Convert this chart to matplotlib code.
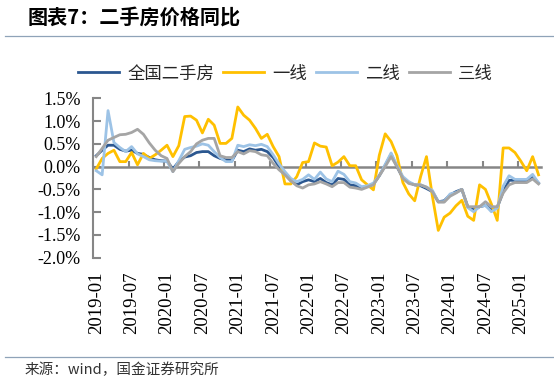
import numpy as np
import matplotlib
matplotlib.use("Agg")
import matplotlib.pyplot as plt
from matplotlib.lines import Line2D

# Monthly data, 2019-01 .. 2025-04 (YoY, %)
months = [f"{y}-{m:02d}" for y in range(2019, 2026) for m in range(1, 13)][:76]

national = [0.24, 0.36, 0.47, 0.47, 0.38, 0.34, 0.36, 0.29, 0.27, 0.20, 0.15, 0.13,
            0.12, -0.05, 0.11, 0.21, 0.24, 0.31, 0.33, 0.33, 0.24, 0.18, 0.15, 0.13,
            0.36, 0.33, 0.39, 0.36, 0.38, 0.33, 0.20, 0.00, -0.17, -0.31, -0.40, -0.33,
            -0.29, -0.33, -0.26, -0.35, -0.40, -0.26, -0.28, -0.40, -0.42, -0.47, -0.43, -0.38,
            -0.20, 0.03, 0.27, 0.00, -0.25, -0.35, -0.40, -0.42, -0.48, -0.55, -0.77, -0.75,
            -0.62, -0.55, -0.50, -0.88, -0.95, -0.88, -0.85, -0.95, -0.90, -0.55, -0.30, -0.30,
            -0.32, -0.30, -0.22, -0.36]
tier1 = [-0.05, 0.18, 0.29, 0.36, 0.11, 0.11, 0.31, 0.04, 0.29, 0.18, 0.26, 0.36,
         0.47, 0.22, 0.46, 1.10, 1.11, 1.02, 0.74, 1.04, 0.91, 0.51, 0.51, 0.62,
         1.31, 1.13, 1.02, 0.84, 0.62, 0.71, 0.44, 0.22, -0.38, -0.38, -0.22, 0.09,
         0.11, 0.52, 0.45, 0.43, 0.02, 0.10, 0.22, 0.02, 0.02, -0.29, -0.40, -0.51,
         0.25, 0.72, 0.55, 0.24, -0.35, -0.60, -0.75, -0.22, 0.22, -0.65, -1.40, -1.11,
         -1.02, -0.86, -0.74, -1.09, -1.18, -0.40, -0.50, -0.82, -1.18, 0.41, 0.41, 0.31,
         0.12, -0.09, 0.22, -0.18]
tier2 = [-0.09, -0.18, 1.23, 0.53, 0.42, 0.33, 0.44, 0.28, 0.22, 0.15, 0.13, 0.12,
         0.12, -0.11, 0.13, 0.38, 0.42, 0.45, 0.50, 0.47, 0.33, 0.20, 0.11, 0.11,
         0.47, 0.44, 0.48, 0.46, 0.49, 0.44, 0.26, 0.06, -0.11, -0.26, -0.33, -0.28,
         -0.18, -0.28, -0.12, -0.27, -0.33, -0.10, -0.17, -0.33, -0.36, -0.44, -0.42, -0.36,
         -0.20, 0.05, 0.30, 0.02, -0.22, -0.33, -0.40, -0.40, -0.45, -0.52, -0.77, -0.77,
         -0.60, -0.57, -0.50, -0.90, -0.99, -0.88, -0.85, -0.99, -0.91, -0.43, -0.20, -0.28,
         -0.28, -0.28, -0.17, -0.36]
tier3 = [0.22, 0.40, 0.58, 0.64, 0.70, 0.71, 0.75, 0.82, 0.71, 0.52, 0.36, 0.24,
         0.18, -0.11, 0.07, 0.22, 0.33, 0.50, 0.58, 0.62, 0.62, 0.24, 0.20, 0.20,
         0.33, 0.28, 0.35, 0.33, 0.26, 0.24, 0.07, -0.07, -0.18, -0.31, -0.42, -0.47,
         -0.40, -0.38, -0.33, -0.38, -0.44, -0.35, -0.35, -0.45, -0.47, -0.50, -0.45, -0.40,
         -0.20, 0.00, 0.22, 0.00, -0.26, -0.37, -0.40, -0.40, -0.45, -0.55, -0.78, -0.78,
         -0.65, -0.58, -0.50, -0.88, -0.88, -0.88, -0.77, -0.88, -0.88, -0.58, -0.40, -0.35,
         -0.35, -0.35, -0.27, -0.38]

series_names = ["全国二手房", "一线", "二线", "三线"]
series_colors = ["#2B5790", "#FFC000", "#9DC3E6", "#A5A5A5"]

cjk = ["Noto Sans CJK SC", "DejaVu Sans"]
serif = "Liberation Serif"
axis_gray = "#868686"

fig = plt.figure(figsize=(5.54, 3.83), dpi=100)
ax = fig.add_axes([0.1684, 0.3271, 0.809, 0.4162])

x = np.arange(len(months))
handles = []
for vals, name, col in zip([national, tier1, tier2, tier3], series_names, series_colors):
    h, = ax.plot(x, vals, color=col, lw=2.0, label=name, zorder=3,
                 solid_joinstyle="round")
    handles.append(h)

ax.set_xlim(-0.5, len(months) - 0.5)
ax.set_ylim(-2.0, 1.5)

# spines: y axis on the left, category axis crossing at 0
for s in ["top", "right"]:
    ax.spines[s].set_visible(False)
ax.spines["left"].set_color(axis_gray)
ax.spines["left"].set_linewidth(1.5)
ax.spines["bottom"].set_position(("data", 0))
ax.spines["bottom"].set_color(axis_gray)
ax.spines["bottom"].set_linewidth(1.8)

yticks = np.arange(-2.0, 1.51, 0.5)
ax.set_yticks(yticks, labels=[f"{v:.1f}%" for v in yticks])
ax.tick_params(axis="y", direction="in", length=6, width=1.5, color=axis_gray,
               labelsize=13, pad=9, labelcolor="#000000")
for lab in ax.get_yticklabels():
    lab.set_fontfamily(serif)

# tick marks at category boundaries every 6 months, no labels
ax.set_xticks(np.arange(-0.5, len(months), 6))
ax.tick_params(axis="x", direction="in", length=4, width=1.5, color=axis_gray,
               labelbottom=False)

# labels at the bottom of the plot area
sec = ax.secondary_xaxis(0)
label_idx = list(range(0, len(months), 6))
sec.set_xticks(label_idx, labels=[months[i] for i in label_idx])
sec.tick_params(axis="x", length=0, pad=10, labelsize=13.5, rotation=90)
sec.spines["bottom"].set_visible(False)
for lab in sec.get_xticklabels():
    lab.set_fontfamily(serif)

fig.legend(handles=handles, loc="center", bbox_to_anchor=(0.515, 0.808),
           ncol=4, frameon=False, handlelength=2.4, handletextpad=0.45,
           columnspacing=0.5, prop={"family": cjk, "size": 12.5},
           labelcolor="#262626")

fig.text(0.049, 0.955, "图表7：二手房价格同比", fontsize=14.5, fontweight="bold",
         family=cjk, va="center", ha="left", color="#000000")
fig.text(0.045, 0.034, "来源：wind，国金证券研究所", fontsize=10.5,
         family=cjk, va="center", ha="left", color="#333333")

rule_col = "#8FA3B8"
fig.add_artist(Line2D([0.009, 1.0], [0.906, 0.906], transform=fig.transFigure,
                      color=rule_col, lw=0.9))
fig.add_artist(Line2D([0.009, 1.0], [0.068, 0.068], transform=fig.transFigure,
                      color=rule_col, lw=0.9))

fig.savefig("out.png", dpi=100)
